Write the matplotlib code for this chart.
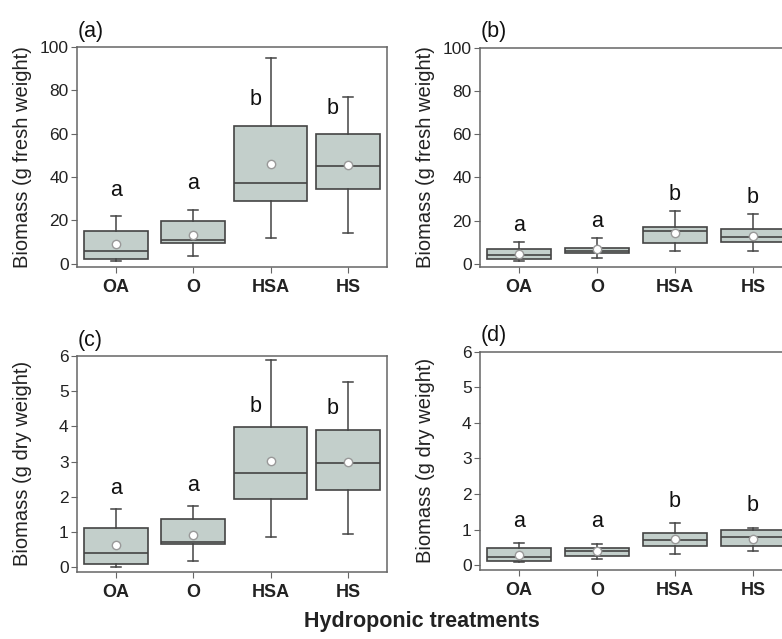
import matplotlib.pyplot as plt

plt.rcParams['font.family'] = ['Liberation Sans', 'DejaVu Sans']

treatments = ['OA', 'O', 'HSA', 'HS']
letters = ['a', 'a', 'b', 'b']

# (a) fresh weight, left
a_low = [1.1, 3.4, 11.8, 14.2]
a_q1 = [2.0, 9.6, 29.0, 34.7]
a_med = [5.7, 11.1, 37.4, 45.0]
a_q3 = [15.0, 19.9, 63.7, 59.9]
a_high = [22.0, 25.0, 94.7, 77.1]
a_mean = [9.2, 13.3, 45.8, 45.5]
a_lett = [29, 32, 71, 67]

# (b) fresh weight, right
b_low = [1.5, 2.6, 5.8, 5.7]
b_q1 = [2.3, 4.9, 9.5, 10.2]
b_med = [4.1, 6.1, 15.0, 12.5]
b_q3 = [6.6, 7.5, 16.8, 16.0]
b_high = [10.2, 12.0, 24.2, 22.8]
b_mean = [4.4, 6.6, 14.4, 13.0]
b_lett = [13, 14.8, 27, 25.8]

# (c) dry weight, left
c_low = [0.01, 0.18, 0.86, 0.96]
c_q1 = [0.10, 0.67, 1.95, 2.19]
c_med = [0.41, 0.73, 2.69, 2.95]
c_q3 = [1.13, 1.38, 3.99, 3.91]
c_high = [1.65, 1.73, 5.88, 5.26]
c_mean = [0.64, 0.93, 3.02, 3.00]
c_lett = [1.95, 2.03, 4.27, 4.20]

# (d) dry weight, right
d_low = [0.09, 0.17, 0.31, 0.39]
d_q1 = [0.12, 0.27, 0.54, 0.55]
d_med = [0.22, 0.39, 0.72, 0.78]
d_q3 = [0.49, 0.48, 0.91, 0.99]
d_high = [0.63, 0.59, 1.20, 1.06]
d_mean = [0.29, 0.39, 0.75, 0.75]
d_lett = [0.94, 0.92, 1.50, 1.38]

W, H = 782, 639
face = '#c3cfcb'
edge = '#444444'
spine = '#666666'


def px_axes(fig, left, top, right, bottom):
    return fig.add_axes([left / W, 1 - bottom / H, (right - left) / W, (bottom - top) / H])


def panel(ax, low, q1, med, q3, high, mean, lett, ylim, yticks, ylabel, tag, widths):
    stats = []
    for i in range(len(treatments)):
        stats.append({'whislo': low[i], 'q1': q1[i], 'med': med[i], 'q3': q3[i],
                      'whishi': high[i], 'mean': mean[i], 'fliers': []})
    ax.bxp(stats, positions=range(1, 5), widths=widths, patch_artist=True,
           showmeans=True, capwidths=0.13,
           boxprops=dict(facecolor=face, edgecolor=edge, linewidth=1.2),
           medianprops=dict(color=edge, linewidth=1.2),
           whiskerprops=dict(color=edge, linewidth=1.1),
           capprops=dict(color=edge, linewidth=1.1),
           meanprops=dict(marker='o', markerfacecolor='white', markeredgecolor='#999999',
                          markeredgewidth=1, markersize=6))
    for i, t in enumerate(letters):
        x = i + 1
        if lett[i] < high[i]:
            x -= 0.2
        ax.text(x, lett[i], t, ha='center', va='bottom', fontsize=15.5, color='#111111')
    ax.set_xlim(0.5, 4.5)
    ax.set_ylim(*ylim)
    ax.set_yticks(yticks)
    ax.set_xticks(range(1, 5))
    ax.set_xticklabels(treatments, fontweight='bold')
    ax.tick_params(axis='y', labelsize=12.5, length=4, color=spine, labelcolor='#222222', pad=2)
    ax.tick_params(axis='x', labelsize=13, length=4, color=spine, labelcolor='#222222', pad=5)
    for s in ax.spines.values():
        s.set_color(spine)
        s.set_linewidth(1.1)
    ax.set_ylabel(ylabel, fontsize=14.5, color='#222222')
    ax.yaxis.set_label_coords(-0.145, 0.5)
    ax.text(0.003, 1.025, tag, transform=ax.transAxes, fontsize=15.5, va='bottom', ha='left',
            color='#111111')


fig = plt.figure(figsize=(W / 100, H / 100), dpi=100)

ax_a = px_axes(fig, 77, 47, 387, 267)
ax_b = px_axes(fig, 480, 47.7, 792, 267)
ax_c = px_axes(fig, 77, 356, 387, 571.7)
ax_d = px_axes(fig, 480, 351.7, 792, 569.5)

fresh = 'Biomass (g fresh weight)'
dry = 'Biomass (g dry weight)'
wide = [0.82, 0.82, 0.94, 0.82]
even = [0.82, 0.82, 0.82, 0.82]

panel(ax_a, a_low, a_q1, a_med, a_q3, a_high, a_mean, a_lett, (-1.5, 100),
      range(0, 101, 20), fresh, '(a)', wide)
panel(ax_b, b_low, b_q1, b_med, b_q3, b_high, b_mean, b_lett, (-1.5, 100),
      range(0, 101, 20), fresh, '(b)', even)
panel(ax_c, c_low, c_q1, c_med, c_q3, c_high, c_mean, c_lett, (-0.12, 6),
      range(0, 7), dry, '(c)', wide)
panel(ax_d, d_low, d_q1, d_med, d_q3, d_high, d_mean, d_lett, (-0.12, 6),
      range(0, 7), dry, '(d)', even)

fig.text(422 / W, 1 - 621 / H, 'Hydroponic treatments', ha='center', va='center',
         fontsize=15.5, fontweight='bold', color='#222222')

fig.savefig('out.png', dpi=100)
